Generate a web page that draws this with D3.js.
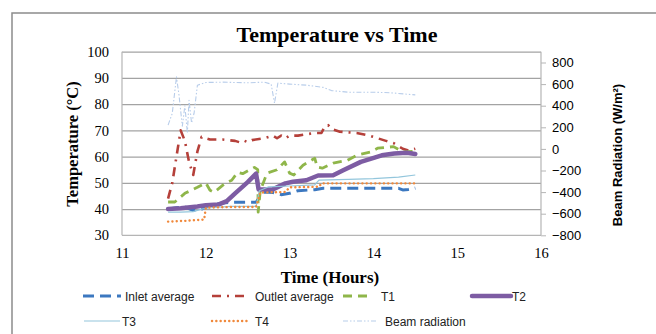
<!DOCTYPE html>
<html><head><meta charset="utf-8">
<script src="https://cdn.jsdelivr.net/npm/d3@7/dist/d3.min.js"></script>
<style>body{margin:0;background:#fff;overflow:hidden}</style>
</head><body>
<svg id="chart" width="656" height="334"></svg>
<script>
const xTicks = [11, 12, 13, 14, 15, 16];
const yTicks = [30, 40, 50, 60, 70, 80, 90, 100];
const y2Ticks = [-800, -600, -400, -200, 0, 200, 400, 600, 800];

const inletAverage = [[11.55,40],[11.65,40.5],[11.75,40.8],[11.85,39.5],[11.95,40],[12.05,41.5],[12.2,42.3],[12.3,42.6],[12.6,42.6],[12.65,45],[12.7,46.5],[12.8,46.3],[12.9,45.5],[13.0,46],[13.1,47],[13.3,47.4],[13.4,47.9],[13.6,47.9],[14.0,47.9],[14.3,47.9],[14.35,47.3],[14.42,47.5],[14.5,48]];
const outletAverage = [[11.55,44],[11.6,50],[11.65,60],[11.7,70],[11.75,66],[11.8,58],[11.85,53],[11.9,62],[11.95,67.5],[12.0,67],[12.05,66.5],[12.2,66.5],[12.35,66],[12.4,65.5],[12.45,66.2],[12.5,65.5],[12.55,66.3],[12.7,67],[12.8,68],[12.85,67],[12.9,68],[12.95,67],[13.0,68],[13.1,68],[13.3,69],[13.38,69],[13.42,71.5],[13.46,72],[13.5,70.5],[13.6,69.5],[13.8,69],[13.95,68],[14.05,67],[14.15,66],[14.25,65],[14.35,63],[14.42,62.3],[14.5,63]];
const t1 = [[11.55,42.7],[11.63,42.7],[11.75,46],[11.83,47.2],[11.9,48.3],[12.0,50],[12.05,47.2],[12.1,46.4],[12.23,49.8],[12.31,51],[12.38,54],[12.44,53.5],[12.58,55.9],[12.62,55],[12.625,38.8],[12.65,47],[12.73,53.7],[12.85,55],[12.94,58],[13.0,53.7],[13.05,53],[13.16,56.7],[13.3,59.4],[13.33,56],[13.39,55.6],[13.52,57.5],[13.69,58.6],[13.8,60.5],[13.96,61.7],[14.05,63.2],[14.24,63.8],[14.35,61.8],[14.5,62]];
const t2 = [[11.55,40],[11.7,40.3],[11.9,41],[12.0,41.5],[12.15,41.7],[12.25,43],[12.35,46],[12.5,50.3],[12.6,53.5],[12.63,47.5],[12.8,47.5],[12.95,49.8],[13.04,50.4],[13.2,51],[13.34,52.8],[13.52,52.9],[13.64,54.8],[13.85,58],[14.1,60.5],[14.25,61.2],[14.4,61.5],[14.5,61]];
const t3 = [[11.55,38.8],[11.7,38.8],[11.85,39],[11.95,40],[12.05,40.5],[12.3,41],[12.6,41],[12.64,47],[12.75,48.5],[13.0,48.8],[13.3,49.2],[13.35,51],[13.7,51.3],[14.0,51.6],[14.3,52.2],[14.5,53]];
const t4 = [[11.55,35.2],[11.75,35.5],[11.98,36],[12.0,40.5],[12.3,40.8],[12.6,40.8],[12.65,46.3],[12.95,46.5],[13.0,48.3],[13.35,48.5],[13.38,49.8],[14.5,49.8]];
const beamRadiation = [[11.55,220],[11.6,330],[11.65,667],[11.68,500],[11.72,210],[11.75,400],[11.78,150],[11.8,450],[11.83,240],[11.86,330],[11.9,590],[12.0,615],[12.2,618],[12.5,612],[12.7,618],[12.78,600],[12.82,423],[12.86,609],[13.0,600],[13.2,590],[13.4,570],[13.5,540],[13.7,525],[14.0,525],[14.2,520],[14.5,500]];

const svg = d3.select("#chart");
const L = 122, R = 541, T = 51.7, B = 235.3;
const x = d3.scaleLinear().domain([11, 16]).range([L, R]);
const y = d3.scaleLinear().domain([30, 100]).range([B, T]);
const y2 = d3.scaleLinear().domain([-800, 900]).range([B, T]);

// outer border
svg.append("rect").attr("x", 12).attr("y", 13).attr("width", 700).attr("height", 400)
  .attr("fill", "none").attr("stroke", "#8c8c8c").attr("stroke-width", 1.5);

// gridlines
svg.append("g").attr("transform", `translate(${L},0)`)
  .call(d3.axisLeft(y).tickValues(yTicks.filter(v => v > 30)).tickSize(-(R - L)).tickFormat(""))
  .call(g => g.select(".domain").remove())
  .call(g => g.selectAll("line").attr("stroke", "#a3a3a3").attr("stroke-width", 1.3));

// axis lines
svg.append("line").attr("x1", L).attr("x2", L).attr("y1", T).attr("y2", B).attr("stroke", "#b5b5b5").attr("stroke-width", 1.2);
svg.append("line").attr("x1", R).attr("x2", R).attr("y1", T).attr("y2", B).attr("stroke", "#b5b5b5").attr("stroke-width", 1.2);
svg.append("line").attr("x1", L).attr("x2", R).attr("y1", B).attr("y2", B).attr("stroke", "#b5b5b5").attr("stroke-width", 1.2);

// left axis labels
svg.append("g").attr("transform", `translate(${L},0)`)
  .call(d3.axisLeft(y).tickValues(yTicks).tickSize(0).tickPadding(13).tickFormat(d3.format("d")))
  .call(g => g.select(".domain").remove())
  .call(g => g.selectAll("text").attr("font-family", "Liberation Serif, Times New Roman, serif").attr("font-size", 14.5).attr("fill", "#000"));

// right axis
svg.append("g").attr("transform", `translate(${R},0)`)
  .call(d3.axisRight(y2).tickValues(y2Ticks).tickSize(5).tickPadding(6).tickFormat(d3.format("d")))
  .call(g => g.select(".domain").remove())
  .call(g => g.selectAll("line").attr("stroke", "#b5b5b5"))
  .call(g => g.selectAll("text").attr("font-family", "Liberation Sans, Arial, sans-serif").attr("font-size", 13).attr("fill", "#000"));

// bottom axis labels
svg.append("g").attr("transform", `translate(0,${B})`)
  .call(d3.axisBottom(x).tickValues(xTicks).tickSize(0).tickPadding(12).tickFormat(d3.format("d")))
  .call(g => g.select(".domain").remove())
  .call(g => g.selectAll("text").attr("font-family", "Liberation Serif, Times New Roman, serif").attr("font-size", 14.5).attr("fill", "#000"));

// titles
svg.append("text").attr("x", 337).attr("y", 42).attr("text-anchor", "middle")
  .attr("font-family", "Liberation Serif, Times New Roman, serif").attr("font-weight", "bold").attr("font-size", 22)
  .text("Temperature vs Time");
svg.append("text").attr("x", 330).attr("y", 283).attr("text-anchor", "middle")
  .attr("font-family", "Liberation Serif, Times New Roman, serif").attr("font-weight", "bold").attr("font-size", 17)
  .text("Time (Hours)");
svg.append("text").attr("transform", "translate(78,144) rotate(-90)").attr("text-anchor", "middle")
  .attr("font-family", "Liberation Serif, Times New Roman, serif").attr("font-weight", "bold").attr("font-size", 16.5)
  .text("Temperature (\u00B0C)");
svg.append("text").attr("transform", "translate(622,155) rotate(-90)").attr("text-anchor", "middle")
  .attr("font-family", "Liberation Sans, Arial, sans-serif").attr("font-weight", "bold").attr("font-size", 13)
  .text("Beam Radiation (W/m\u00B2)");

const styles = {
  inlet: {color: "#3c78c0", width: 3, dash: "11,6", cap: "butt"},
  outlet: {color: "#b5403a", width: 2.6, dash: "9,6,2,6", cap: "butt"},
  t1: {color: "#8fb64a", width: 2.8, dash: "9,6", cap: "butt"},
  t2: {color: "#7d5ca3", width: 4.5, dash: null, cap: "round"},
  t3: {color: "#93c6dc", width: 1.2, dash: null, cap: "butt"},
  t4: {color: "#f0893c", width: 2.4, dash: "0.1,4.2", cap: "round"},
  beam: {color: "#b8cdea", width: 1.1, dash: "5,2,1.5,2,1.5,2", cap: "butt"}
};

const lineL = d3.line().x(d => x(d[0])).y(d => y(d[1]));
const lineR = d3.line().x(d => x(d[0])).y(d => y2(d[1]));

function draw(data, gen, s) {
  const p = svg.append("path").datum(data).attr("d", gen)
    .attr("fill", "none").attr("stroke", s.color).attr("stroke-width", s.width)
    .attr("stroke-linecap", s.cap).attr("stroke-linejoin", "round");
  if (s.dash) p.attr("stroke-dasharray", s.dash);
}
draw(beamRadiation, lineR, styles.beam);
draw(inletAverage, lineL, styles.inlet);
draw(outletAverage, lineL, styles.outlet);
draw(t1, lineL, styles.t1);
draw(t2, lineL, styles.t2);
draw(t3, lineL, styles.t3);
draw(t4, lineL, styles.t4);

// legend
const legend = [
  {name: "Inlet average", s: styles.inlet, x1: 83, x2: 121, tx: 125, y: 296},
  {name: "Outlet average", s: styles.outlet, x1: 212, x2: 248, tx: 255, y: 296},
  {name: "T1", s: styles.t1, x1: 343, x2: 372, tx: 381, y: 296},
  {name: "T2", s: styles.t2, x1: 472, x2: 511, tx: 512, y: 296},
  {name: "T3", s: styles.t3, x1: 84, x2: 120, tx: 122, y: 321},
  {name: "T4", s: styles.t4, x1: 212, x2: 249, tx: 255, y: 321},
  {name: "Beam radiation", s: styles.beam, x1: 343, x2: 378, tx: 385, y: 321}
];
const lg = svg.append("g");
legend.forEach(d => {
  const l = lg.append("line").attr("x1", d.x1).attr("x2", d.x2).attr("y1", d.y).attr("y2", d.y)
    .attr("stroke", d.s.color).attr("stroke-width", d.s.width).attr("stroke-linecap", d.s.cap);
  if (d.s.dash) l.attr("stroke-dasharray", d.s.dash);
  lg.append("text").attr("x", d.tx).attr("y", d.y + 4.5)
    .attr("font-family", "Liberation Sans, Arial, sans-serif").attr("font-size", 12).attr("fill", "#222")
    .text(d.name);
});
</script>
</body></html>
